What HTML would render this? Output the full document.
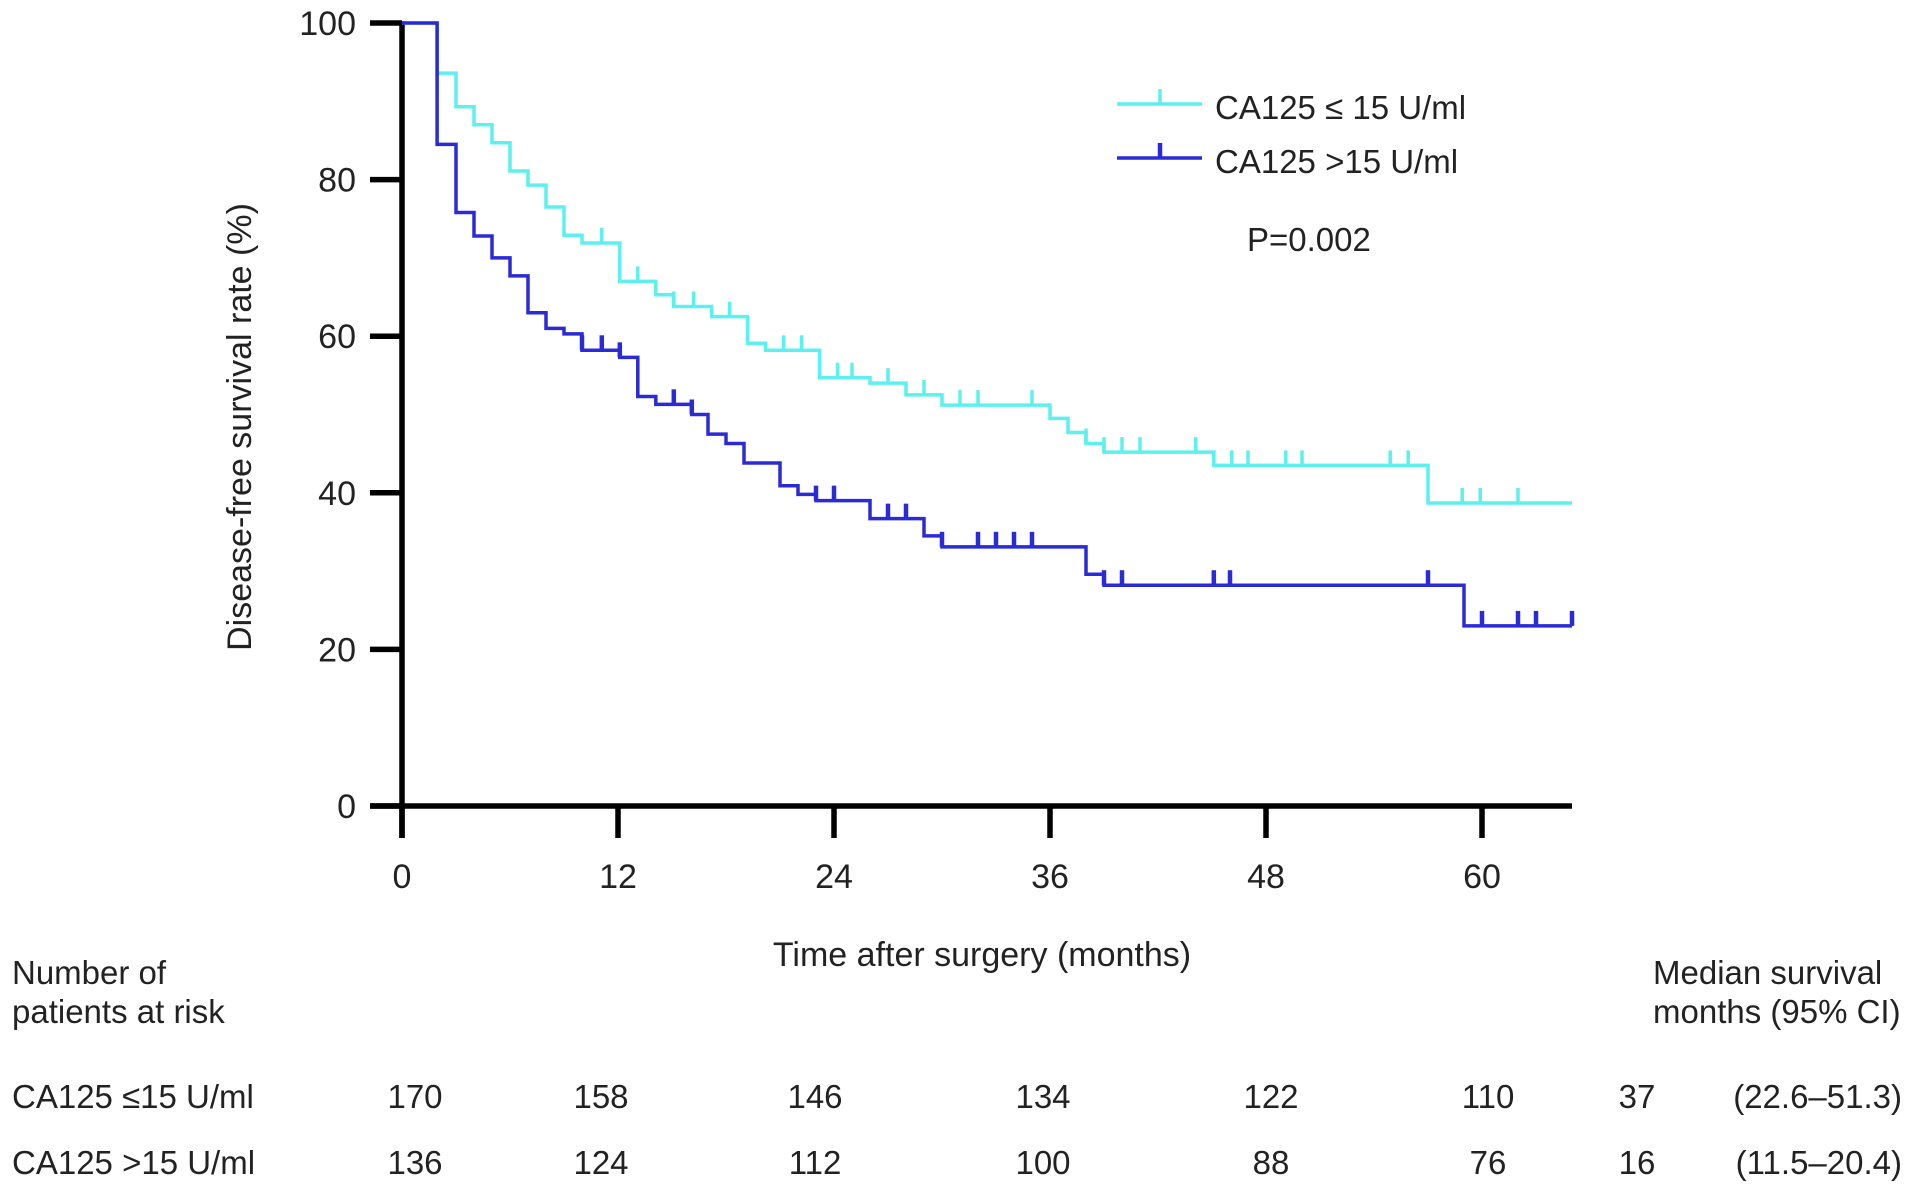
<!DOCTYPE html>
<html><head><meta charset="utf-8"><style>
html,body{margin:0;padding:0;background:#fff;}
svg{display:block;font-family:"Liberation Sans",sans-serif;}
</style></head><body>
<svg id="chart" width="1913" height="1193" viewBox="0 0 1913 1193" xmlns="http://www.w3.org/2000/svg">
<g id="axes"></g>
<g id="series"></g>
<g>
  <line x1="1117" y1="104" x2="1202" y2="104" stroke="#5cf0ee" stroke-width="3.5"/>
  <line x1="1160" y1="104" x2="1160" y2="89" stroke="#5cf0ee" stroke-width="3.5"/>
  <text x="1215" y="119" font-size="33" fill="#222">CA125 ≤ 15 U/ml</text>
  <line x1="1117" y1="158" x2="1202" y2="158" stroke="#2b2bd6" stroke-width="3.5"/>
  <line x1="1160" y1="158" x2="1160" y2="143" stroke="#2b2bd6" stroke-width="4.5"/>
  <text x="1215" y="173" font-size="33" fill="#222">CA125 &gt;15 U/ml</text>
  <text x="1247" y="251" font-size="33" fill="#222">P=0.002</text>
</g>
<text transform="translate(251,427) rotate(-90)" text-anchor="middle" font-size="34" fill="#222">Disease-free survival rate (%)</text>
<text x="982" y="966" text-anchor="middle" font-size="34" fill="#222">Time after surgery (months)</text>
<g font-size="33" fill="#222">
  <text x="12" y="984">Number of</text>
  <text x="12" y="1023">patients at risk</text>
  <text x="1653" y="984">Median survival</text>
  <text x="1653" y="1023">months (95% CI)</text>
  <text x="12" y="1108">CA125 ≤15 U/ml</text>
  <text x="12" y="1174">CA125 &gt;15 U/ml</text>
  <g id="riskvals"></g>
</g>
</svg>
<script>
const yTicks = [0, 20, 40, 60, 80, 100];
const xTicks = [0, 12, 24, 36, 48, 60];
const lowTimes  = [0, 1.95, 3, 4, 5, 6, 7, 8, 9, 10, 12.1, 14.1, 15.1, 17.2, 19.2, 20.2, 23.2, 26, 28, 30, 36, 37, 38, 39, 45.1, 57];
const lowValues = [100, 93.6, 89.3, 87.0, 84.7, 81.1, 79.3, 76.5, 72.9, 71.9, 67.0, 65.3, 63.8, 62.5, 59.1, 58.2, 54.7, 54, 52.5, 51.2, 49.5, 47.7, 46.3, 45.2, 43.5, 38.7];
const lowCensor = [11.1, 13.1, 15.1, 16.2, 18.2, 21.2, 22.2, 24.2, 25, 27, 29, 31, 32, 35, 38, 39, 40, 41, 44.1, 45.1, 46.1, 47, 49.1, 50, 54.9, 55.9, 58.9, 59.9, 62];
const highTimes  = [0, 1.95, 3, 4, 5, 6, 7, 8, 9, 10, 12.1, 13.1, 14.1, 16.1, 17, 18, 19, 21, 22, 23, 26, 29, 30, 38, 39, 59];
const highValues = [100, 84.5, 75.8, 72.8, 70.0, 67.7, 63.0, 61.0, 60.3, 58.2, 57.3, 52.3, 51.3, 50.0, 47.5, 46.3, 43.8, 40.9, 39.8, 39.0, 36.7, 34.5, 33.1, 29.6, 28.2, 23.0];
const highCensor = [10, 11.1, 12.1, 15.1, 16.1, 23, 24, 27, 28, 30, 32, 33, 34, 35, 39, 40, 45.1, 46, 57, 60, 62, 63, 65];
const riskTimes = [0, 12, 24, 36, 48, 60];
const riskLow = [170, 158, 146, 134, 122, 110];
const riskHigh = [136, 124, 112, 100, 88, 76];
const medianLow = ["37", "(22.6–51.3)"];
const medianHigh = ["16", "(11.5–20.4)"];
const xMax = 65;

const NS = "http://www.w3.org/2000/svg";
const X0 = 402, PX = 18, Y0 = 806, PY = 7.83;
function xs(m){ return X0 + m*PX; }
function ys(v){ return Y0 - v*PY; }
function mk(tag, attrs, parent){
  const e = document.createElementNS(NS, tag);
  for (const k in attrs) e.setAttribute(k, attrs[k]);
  parent.appendChild(e); return e;
}
const axes = document.getElementById('axes');
let e = mk('line', {x1:X0, y1:ys(100)-2, x2:X0, y2:Y0+32, stroke:'#000','stroke-width':5.5}, axes);


e = mk('line', {x1:X0-32, y1:Y0, x2:xs(xMax), y2:Y0, stroke:'#000','stroke-width':5.5}, axes);


yTicks.forEach(v=>{
  const t = mk('line', {x1:X0-32, y1:ys(v), x2:X0, y2:ys(v), stroke:'#000','stroke-width':5.5}, axes);
  
  
  const l = mk('text', {x:356, y:ys(v)+12, 'text-anchor':'end','font-size':34, fill:'#222'}, axes);
  l.textContent = v;
  
  
});
xTicks.forEach(m=>{
  const t = mk('line', {x1:xs(m), y1:Y0, x2:xs(m), y2:Y0+32, stroke:'#000','stroke-width':5.5}, axes);
  
  
  const l = mk('text', {x:xs(m), y:888, 'text-anchor':'middle','font-size':34, fill:'#222'}, axes);
  l.textContent = m;
  
  
});
function valAt(times, vals, m){
  let v = vals[0];
  for (let i=0;i<times.length;i++) if (times[i] <= m) v = vals[i];
  return v;
}
const series = document.getElementById('series');
function drawCurve(times, vals, cens, color, name, cw){
  let d = 'M'+xs(times[0])+','+ys(vals[0]);
  for (let i=1;i<times.length;i++){
    d += ' H'+xs(times[i])+' V'+ys(vals[i]);
  }
  d += ' H'+xs(xMax);
  const p = mk('path', {d:d, fill:'none', stroke:color, 'stroke-width':3.5}, series);
  
  
  cens.forEach(m=>{
    const v = valAt(times, vals, m);
    const c = mk('line', {x1:xs(m), y1:ys(v), x2:xs(m), y2:ys(v)-15, stroke:color, 'stroke-width':cw}, series);
    
    
  });
}
drawCurve(lowTimes, lowValues, lowCensor, '#5cf0ee', 'low-ca125', 3.5);
drawCurve(highTimes, highValues, highCensor, '#2b2bd6', 'high-ca125', 4.5);

const rv = document.getElementById('riskvals');
const riskX = [415, 601, 815, 1043, 1271, 1488];
function riskRow(vals, med, y, name){
  vals.forEach((n,i)=>{
    const t = mk('text', {x:riskX[i], y:y, 'text-anchor':'middle'}, rv);
    t.textContent = n;
    
    
  });
  const a = mk('text', {x:1637, y:y, 'text-anchor':'middle'}, rv);
  a.textContent = med[0];
  
  
  const b = mk('text', {x:1902, y:y, 'text-anchor':'end'}, rv);
  b.textContent = med[1];
  
  
}
riskRow(riskLow, medianLow, 1108, 'low-ca125');
riskRow(riskHigh, medianHigh, 1174, 'high-ca125');
</script>
</body></html>
